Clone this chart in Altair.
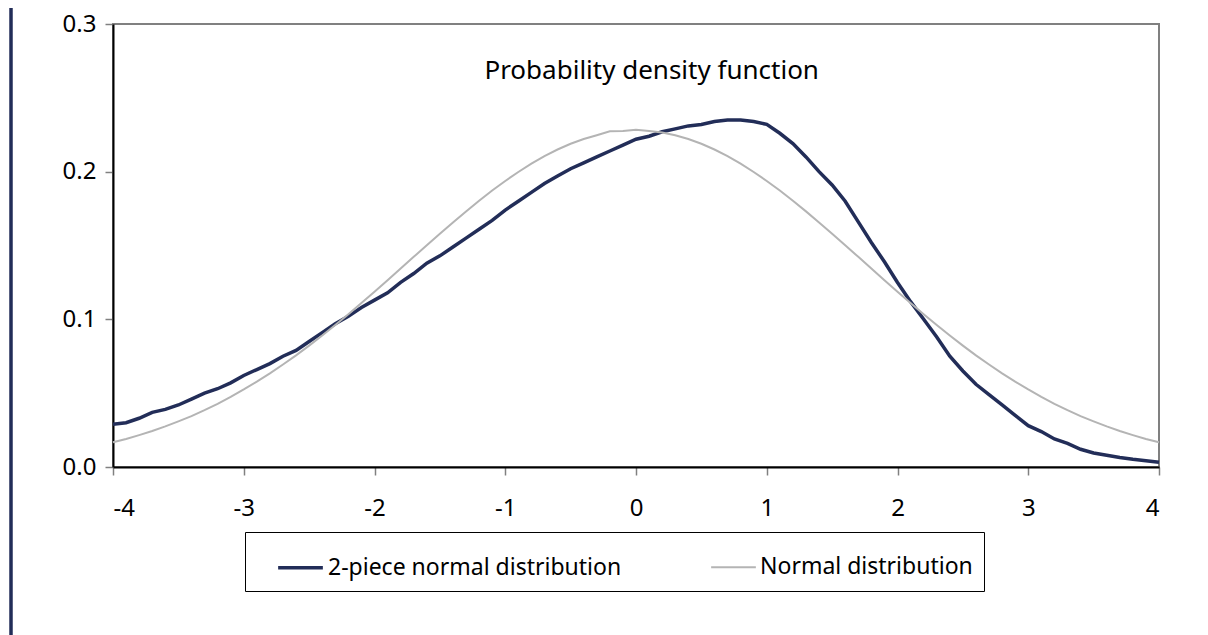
import altair as alt
import pandas as pd

# ---- data ----
x_vals = [round(-4 + 0.1 * i, 1) for i in range(81)]

two_piece = [
    0.029, 0.030, 0.033, 0.037, 0.039, 0.042, 0.046, 0.050, 0.053, 0.057,
    0.062, 0.066, 0.070, 0.075, 0.079, 0.085, 0.091, 0.097, 0.102, 0.108,
    0.113, 0.118, 0.125, 0.131, 0.138, 0.143, 0.149, 0.155, 0.161, 0.167,
    0.174, 0.180, 0.186, 0.192, 0.197, 0.202, 0.206, 0.210, 0.214, 0.218,
    0.222, 0.224, 0.227, 0.229, 0.231, 0.232, 0.234, 0.235, 0.235, 0.234,
    0.232, 0.226, 0.219, 0.210, 0.200, 0.191, 0.180, 0.166, 0.152, 0.139,
    0.125, 0.112, 0.100, 0.088, 0.075, 0.065, 0.056, 0.049, 0.042, 0.035,
    0.028, 0.024, 0.019, 0.016, 0.012, 0.0095, 0.008, 0.0065, 0.0053, 0.0043,
    0.0032,
]

normal = [
    0.0167, 0.0190, 0.0216, 0.0244, 0.0275, 0.0309, 0.0345, 0.0385, 0.0428, 0.0475,
    0.0525, 0.0578, 0.0634, 0.0694, 0.0756, 0.0822, 0.0891, 0.0962, 0.1035, 0.1110,
    0.1187, 0.1265, 0.1344, 0.1423, 0.1501, 0.1579, 0.1656, 0.1731, 0.1803, 0.1872,
    0.1937, 0.1998, 0.2054, 0.2105, 0.2150, 0.2189, 0.2221, 0.2247, 0.2273, 0.2275,
    0.2284, 0.2276, 0.2265, 0.2247, 0.2221, 0.2189, 0.2150, 0.2105, 0.2054, 0.1998,
    0.1937, 0.1872, 0.1803, 0.1731, 0.1656, 0.1579, 0.1501, 0.1423, 0.1344, 0.1265,
    0.1187, 0.1110, 0.1035, 0.0962, 0.0891, 0.0822, 0.0756, 0.0694, 0.0634, 0.0578,
    0.0525, 0.0475, 0.0428, 0.0385, 0.0345, 0.0309, 0.0275, 0.0244, 0.0216, 0.0190,
    0.0167,
]

series_names = ["2-piece normal distribution", "Normal distribution"]
series_colors = ["#222d58", "#b4b4b4"]
series_widths = [3.5, 2]

x_ticks = [-4, -3, -2, -1, 0, 1, 2, 3, 4]
y_ticks = [0.0, 0.1, 0.2, 0.3]

title_text = "Probability density function"
title_pos = {"x": 0.12, "y": 0.268}

FONT = "Noto Sans"

rows = []
for xv, a, b in zip(x_vals, two_piece, normal):
    rows.append({"x": xv, "value": a, "series": series_names[0]})
    rows.append({"x": xv, "value": b, "series": series_names[1]})
df = pd.DataFrame(rows)

legend = alt.Legend(
    orient="none", legendX=132, legendY=508, direction="horizontal",
    title=None, strokeColor="#000000", fillColor="white", padding=11,
    symbolOffset=20, symbolType="stroke", symbolSize=2000, labelFontSize=23,
    labelFont=FONT, labelColor="#000000", columnPadding=68, labelOffset=3,
    labelLimit=500,
)

x_enc = alt.X("x:Q", scale=alt.Scale(domain=[-4, 4], nice=False),
              axis=alt.Axis(values=x_ticks, labelExpr="'' + datum.value", title=None,
                            grid=False, labelPadding=21))
y_enc = alt.Y("value:Q", scale=alt.Scale(domain=[0, 0.3], nice=False),
              axis=alt.Axis(values=y_ticks, format=".1f", title=None, grid=False,
                            labelPadding=9))

lines = alt.Chart(df).mark_line(interpolate="linear").encode(
    x=x_enc,
    y=y_enc,
    color=alt.Color("series:N", scale=alt.Scale(domain=series_names, range=series_colors),
                    legend=legend),
    strokeWidth=alt.StrokeWidth("series:N", scale=alt.Scale(domain=series_names, range=series_widths),
                                legend=legend),
    order=alt.Order("x:Q"),
    detail="series:N",
)

title_df = pd.DataFrame([{"x": title_pos["x"], "value": title_pos["y"], "label": title_text}])
title = alt.Chart(title_df).mark_text(
    font=FONT, fontSize=26, color="#000000", align="center", baseline="middle"
).encode(x="x:Q", y="value:Q", text="label:N")

bar = alt.Chart(pd.DataFrame([{"k": 1}])).mark_rule(
    color="#222d58", strokeWidth=3.5
).encode(x=alt.value(-102), y=alt.value(-40), y2=alt.value(640))

chart = alt.layer(lines, title, bar).properties(
    width=1046, height=443,
    autosize=alt.AutoSizeParams(type="none"),
    padding={"left": 105, "top": 16, "right": 41, "bottom": 175},
).configure_view(
    stroke="#808080", strokeWidth=2
).configure_axis(
    domainColor="#000000", domainWidth=2, tickColor="#808080", tickWidth=1.5,
    tickSize=8, labelFont=FONT, labelFontSize=24, labelColor="#000000",
)

chart.save("out.html", embed_options={"renderer": "svg", "actions": False})
